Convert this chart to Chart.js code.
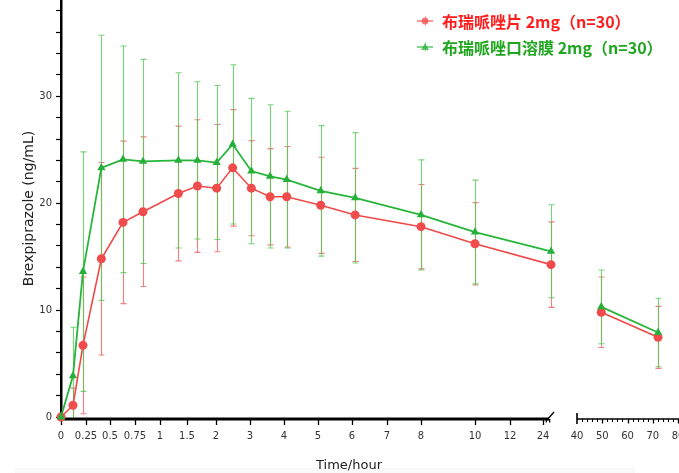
<!DOCTYPE html>
<html><head><meta charset="utf-8">
<script src="https://cdn.jsdelivr.net/npm/chart.js@4.4.1/dist/chart.umd.min.js"></script>
<style>html,body{margin:0;padding:0;background:#fff;}#wrap{width:679px;height:473px;position:relative;}</style>
</head><body><div id="wrap"><canvas id="c" width="679" height="473"></canvas></div>
<script>
// ---------- data ----------
const timesHours = [0, 0.12, 0.22, 0.41, 0.63, 0.83, 1.34, 1.68, 2.02, 2.49, 3.04, 3.59, 4.08, 5.08, 6.09, 8, 10, 26.4, 49.6, 72.1];
const tabletMean = [0, 1.1, 6.7, 14.8, 18.2, 19.2, 20.9, 21.6, 21.4, 23.3, 21.4, 20.6, 20.6, 19.8, 18.9, 17.8, 16.2, 14.25, 9.8, 7.45];
const tabletSD   = [0, 1.6, 6.4, 9.0, 7.6, 7.0, 6.3, 6.2, 5.95, 5.45, 4.45, 4.5, 4.7, 4.5, 4.35, 3.95, 3.85, 4.0, 3.3, 2.9];
const filmMean   = [0, 3.85, 13.6, 23.3, 24.1, 23.9, 24.0, 24.0, 23.8, 25.5, 23.0, 22.5, 22.2, 21.15, 20.5, 18.9, 17.3, 15.5, 10.3, 7.9];
const filmSD     = [0, 4.55, 11.2, 12.4, 10.6, 9.55, 8.2, 7.35, 7.2, 7.45, 6.8, 6.7, 6.4, 6.1, 6.1, 5.15, 4.85, 4.35, 3.45, 3.2];
const seriesLabels = ['布瑞哌唑片 2mg（n=30）', '布瑞哌唑口溶膜 2mg（n=30）'];
const xTickValues = [0, 0.25, 0.5, 0.75, 1, 1.5, 2, 3, 4, 5, 6, 7, 8, 10, 12, 24, 40, 50, 60, 70, 80];
const xTickLabels = ['0', '0.25', '0.5', '0.75', '1', '1.5', '2', '3', '4', '5', '6', '7', '8', '10', '12', '24', '40', '50', '60', '70', '80'];
const xMinorTicks2 = [42, 44, 46, 48, 52, 54, 56, 58, 62, 64, 66, 68, 72, 74, 76, 78];
const yTickLabels = [0, 10, 20, 30];

// ---------- broken time axis geometry (hours -> share of axis length) ----------
const AXIS_SPAN = 618;
const axisHours   = [0, 0.25, 0.5, 0.75, 1, 1.5, 2, 3, 4, 5, 6, 7, 8, 10, 12, 24, 27, 40, 80];
const axisOffsets = [0, 25, 49, 74, 99, 126, 155, 189, 223, 257, 291, 326, 360, 414, 449, 482, 492, 516, 617];
const BREAK_END = 27, SEG2_START = 40;

function hourToShare(h) {
  let i = 1;
  while (i < axisHours.length - 1 && h > axisHours[i]) i++;
  const t = (h - axisHours[i - 1]) / (axisHours[i] - axisHours[i - 1]);
  return (axisOffsets[i - 1] + t * (axisOffsets[i] - axisOffsets[i - 1])) / AXIS_SPAN;
}
function shareToHour(s) {
  const o = s * AXIS_SPAN;
  let i = 1;
  while (i < axisOffsets.length - 1 && o > axisOffsets[i]) i++;
  const t = (o - axisOffsets[i - 1]) / (axisOffsets[i] - axisOffsets[i - 1]);
  return axisHours[i - 1] + t * (axisHours[i] - axisHours[i - 1]);
}

class BrokenHourScale extends Chart.LinearScale {
  buildTicks() { return xTickValues.map(v => ({ value: v })); }
  getPixelForValue(v) { if (v === null || v === undefined || isNaN(v)) return NaN; return this.getPixelForDecimal(hourToShare(v)); }
  getValueForPixel(p) { return shareToHour(this.getDecimalForPixel(p)); }
  getPadding() { return { left: 0, right: 0, top: 0, bottom: 0 }; }
}
BrokenHourScale.id = 'brokenHour';
BrokenHourScale.defaults = {};
Chart.register(BrokenHourScale);

Chart.defaults.font.family = '"DejaVu Sans", sans-serif';

const RED = { line: '#ef4a4a', point: '#f04c4c', err: 'rgba(238,95,95,0.8)', text: '#ff1c1c' };
const GREEN = { line: '#27b53a', point: '#26b03a', err: 'rgba(85,200,85,0.8)', text: '#1fa61f' };

const sdArrays = [tabletSD, filmSD];
const errColors = [RED.err, GREEN.err];

const customDraw = {
  id: 'customDraw',
  beforeDraw(chart) {
    const { ctx } = chart;
    ctx.save();
    ctx.fillStyle = 'rgba(0,0,0,0.025)';
    ctx.fillRect(15, 468, 620, 5);
    ctx.restore();
  },
  beforeDatasetsDraw(chart) {
    const { ctx, chartArea, scales: { x, y } } = chart;
    const ly = chartArea.bottom + 2;
    ctx.save();
    ctx.strokeStyle = '#000';
    ctx.lineWidth = 3.2;
    ctx.beginPath();
    ctx.moveTo(chartArea.left - 2, ly);
    ctx.lineTo(x.getPixelForValue(BREAK_END) - 4, ly);
    ctx.stroke();
    ctx.lineWidth = 1.3;
    xTickValues.forEach(v => {
      const px = Math.round(x.getPixelForValue(v)) + 0.5;
      ctx.beginPath();
      if (v <= 24) { ctx.moveTo(px, ly); ctx.lineTo(px, ly + 6); }
      else if (v > SEG2_START) { ctx.moveTo(px, ly); ctx.lineTo(px, ly + 4.5); }
      ctx.stroke();
    });
    [25, 26].forEach(v => {
      const px = x.getPixelForValue(v);
      ctx.beginPath(); ctx.moveTo(px, ly); ctx.lineTo(px, ly + 3.5); ctx.stroke();
    });
    const bx = x.getPixelForValue(BREAK_END);
    ctx.lineWidth = 1.4;
    ctx.beginPath(); ctx.moveTo(bx - 6, ly + 1); ctx.lineTo(bx + 1, ly - 7); ctx.stroke();
    const sx = x.getPixelForValue(SEG2_START);
    ctx.lineWidth = 1.5;
    ctx.beginPath(); ctx.moveTo(sx, ly); ctx.lineTo(chartArea.right + 2, ly); ctx.stroke();
    ctx.lineWidth = 1.6;
    ctx.beginPath(); ctx.moveTo(sx, ly - 6); ctx.lineTo(sx, ly + 5); ctx.stroke();
    ctx.lineWidth = 1;
    xMinorTicks2.forEach(v => {
      const px = Math.round(x.getPixelForValue(v)) + 0.5;
      ctx.beginPath(); ctx.moveTo(px, ly); ctx.lineTo(px, ly + 3); ctx.stroke();
    });
    ctx.restore();

    // error bars (mean ± SD)
    ctx.save();
    ctx.beginPath();
    ctx.rect(chartArea.left, chartArea.top, chartArea.width, chartArea.height);
    ctx.clip();
    chart.data.datasets.forEach((ds, di) => {
      const sd = sdArrays[di];
      ctx.strokeStyle = errColors[di];
      ctx.lineWidth = 1.1;
      ds.data.forEach((pt, i) => {
        if (!sd[i]) return;
        const px = Math.round(x.getPixelForValue(pt.x)) + 0.5;
        const top = y.getPixelForValue(pt.y + sd[i]);
        const bot = y.getPixelForValue(pt.y - sd[i]);
        ctx.beginPath();
        ctx.moveTo(px, top); ctx.lineTo(px, bot);
        ctx.moveTo(px - 3, top); ctx.lineTo(px + 3, top);
        ctx.moveTo(px - 3, bot); ctx.lineTo(px + 3, bot);
        ctx.stroke();
      });
    });
    ctx.restore();
  },
  afterDraw(chart) {
    const { ctx } = chart;
    ctx.save();
    const items = [
      { label: seriesLabels[0], c: RED, y: 21, shape: 'circle' },
      { label: seriesLabels[1], c: GREEN, y: 47, shape: 'triangle' }
    ];
    items.forEach(it => {
      ctx.globalAlpha = 0.6;
      ctx.strokeStyle = it.c.err; ctx.lineWidth = 1;
      ctx.beginPath(); ctx.moveTo(425.5, it.y - 5); ctx.lineTo(425.5, it.y + 5); ctx.stroke();
      ctx.globalAlpha = 0.75;
      ctx.strokeStyle = it.c.line; ctx.lineWidth = 1.5;
      ctx.beginPath(); ctx.moveTo(417, it.y); ctx.lineTo(433, it.y); ctx.stroke();
      ctx.fillStyle = it.c.point;
      ctx.beginPath();
      if (it.shape === 'circle') ctx.arc(425, it.y, 3.4, 0, Math.PI * 2);
      else { ctx.moveTo(425, it.y - 4); ctx.lineTo(429, it.y + 3); ctx.lineTo(421, it.y + 3); ctx.closePath(); }
      ctx.fill();
      ctx.globalAlpha = 1;
      ctx.fillStyle = it.c.text;
      ctx.font = 'bold 16px "Noto Sans CJK SC"';
      ctx.textBaseline = 'middle';
      ctx.textAlign = 'left';
      ctx.fillText(it.label, 442, it.y + 1);
    });
    ctx.fillStyle = '#222';
    ctx.font = '13px "DejaVu Sans"';
    ctx.textAlign = 'center';
    ctx.textBaseline = 'middle';
    ctx.fillText('Time/hour', 349, 466);
    ctx.restore();
  }
};

const gapSegment = ctx => (ctx.p0.parsed.x < BREAK_END && ctx.p1.parsed.x > SEG2_START) ? 'rgba(0,0,0,0)' : undefined;

new Chart(document.getElementById('c'), {
  type: 'line',
  data: {
    datasets: [
      {
        label: seriesLabels[0],
        data: timesHours.map((t, i) => ({ x: t, y: tabletMean[i] })),
        borderColor: RED.line, backgroundColor: RED.point,
        pointBackgroundColor: RED.point, pointBorderColor: RED.point,
        pointStyle: 'circle', pointRadius: 4.5, borderWidth: 1.6, pointBorderWidth: 0,
        order: 1, segment: { borderColor: gapSegment }, clip: false
      },
      {
        label: seriesLabels[1],
        data: timesHours.map((t, i) => ({ x: t, y: filmMean[i] })),
        borderColor: GREEN.line, backgroundColor: GREEN.point,
        pointBackgroundColor: GREEN.point, pointBorderColor: GREEN.point,
        pointStyle: 'triangle', pointRadius: 4.8, borderWidth: 1.8, pointBorderWidth: 0,
        order: 0, segment: { borderColor: gapSegment }, clip: false
      }
    ]
  },
  options: {
    responsive: false,
    animation: false,
    events: [],
    layout: { padding: 0, autoPadding: false },
    plugins: { legend: { display: false }, tooltip: { enabled: false } },
    scales: {
      x: {
        type: 'brokenHour',
        min: 0, max: 80,
        grid: { display: false, drawTicks: false },
        border: { display: false },
        ticks: {
          autoSkip: false, maxRotation: 0, minRotation: 0,
          padding: 13.5, color: '#333', font: { size: 10 },
          callback: (v) => { const i = xTickValues.indexOf(v); return i >= 0 ? xTickLabels[i] : ''; }
        },
        afterFit: s => { s.height = 56; s.paddingLeft = 0; s.paddingRight = 0; }
      },
      y: {
        min: 0, max: 39,
        grid: { drawOnChartArea: false, drawTicks: true, tickLength: 5, tickColor: '#000', tickWidth: 1.2 },
        border: { display: true, color: '#000', width: 2.5 },
        ticks: {
          stepSize: 2, includeBounds: false, padding: 4, color: '#333', font: { size: 10 },
          callback: v => (yTickLabels.includes(v) ? String(v) : '')
        },
        title: { display: true, text: 'Brexpiprazole (ng/mL)', color: '#222', font: { size: 14 }, padding: { top: 21, bottom: 0 } },
        afterFit: s => { s.width = 61; s.paddingTop = 0; s.paddingBottom = 0; }
      }
    }
  },
  plugins: [customDraw]
});
</script></body></html>
